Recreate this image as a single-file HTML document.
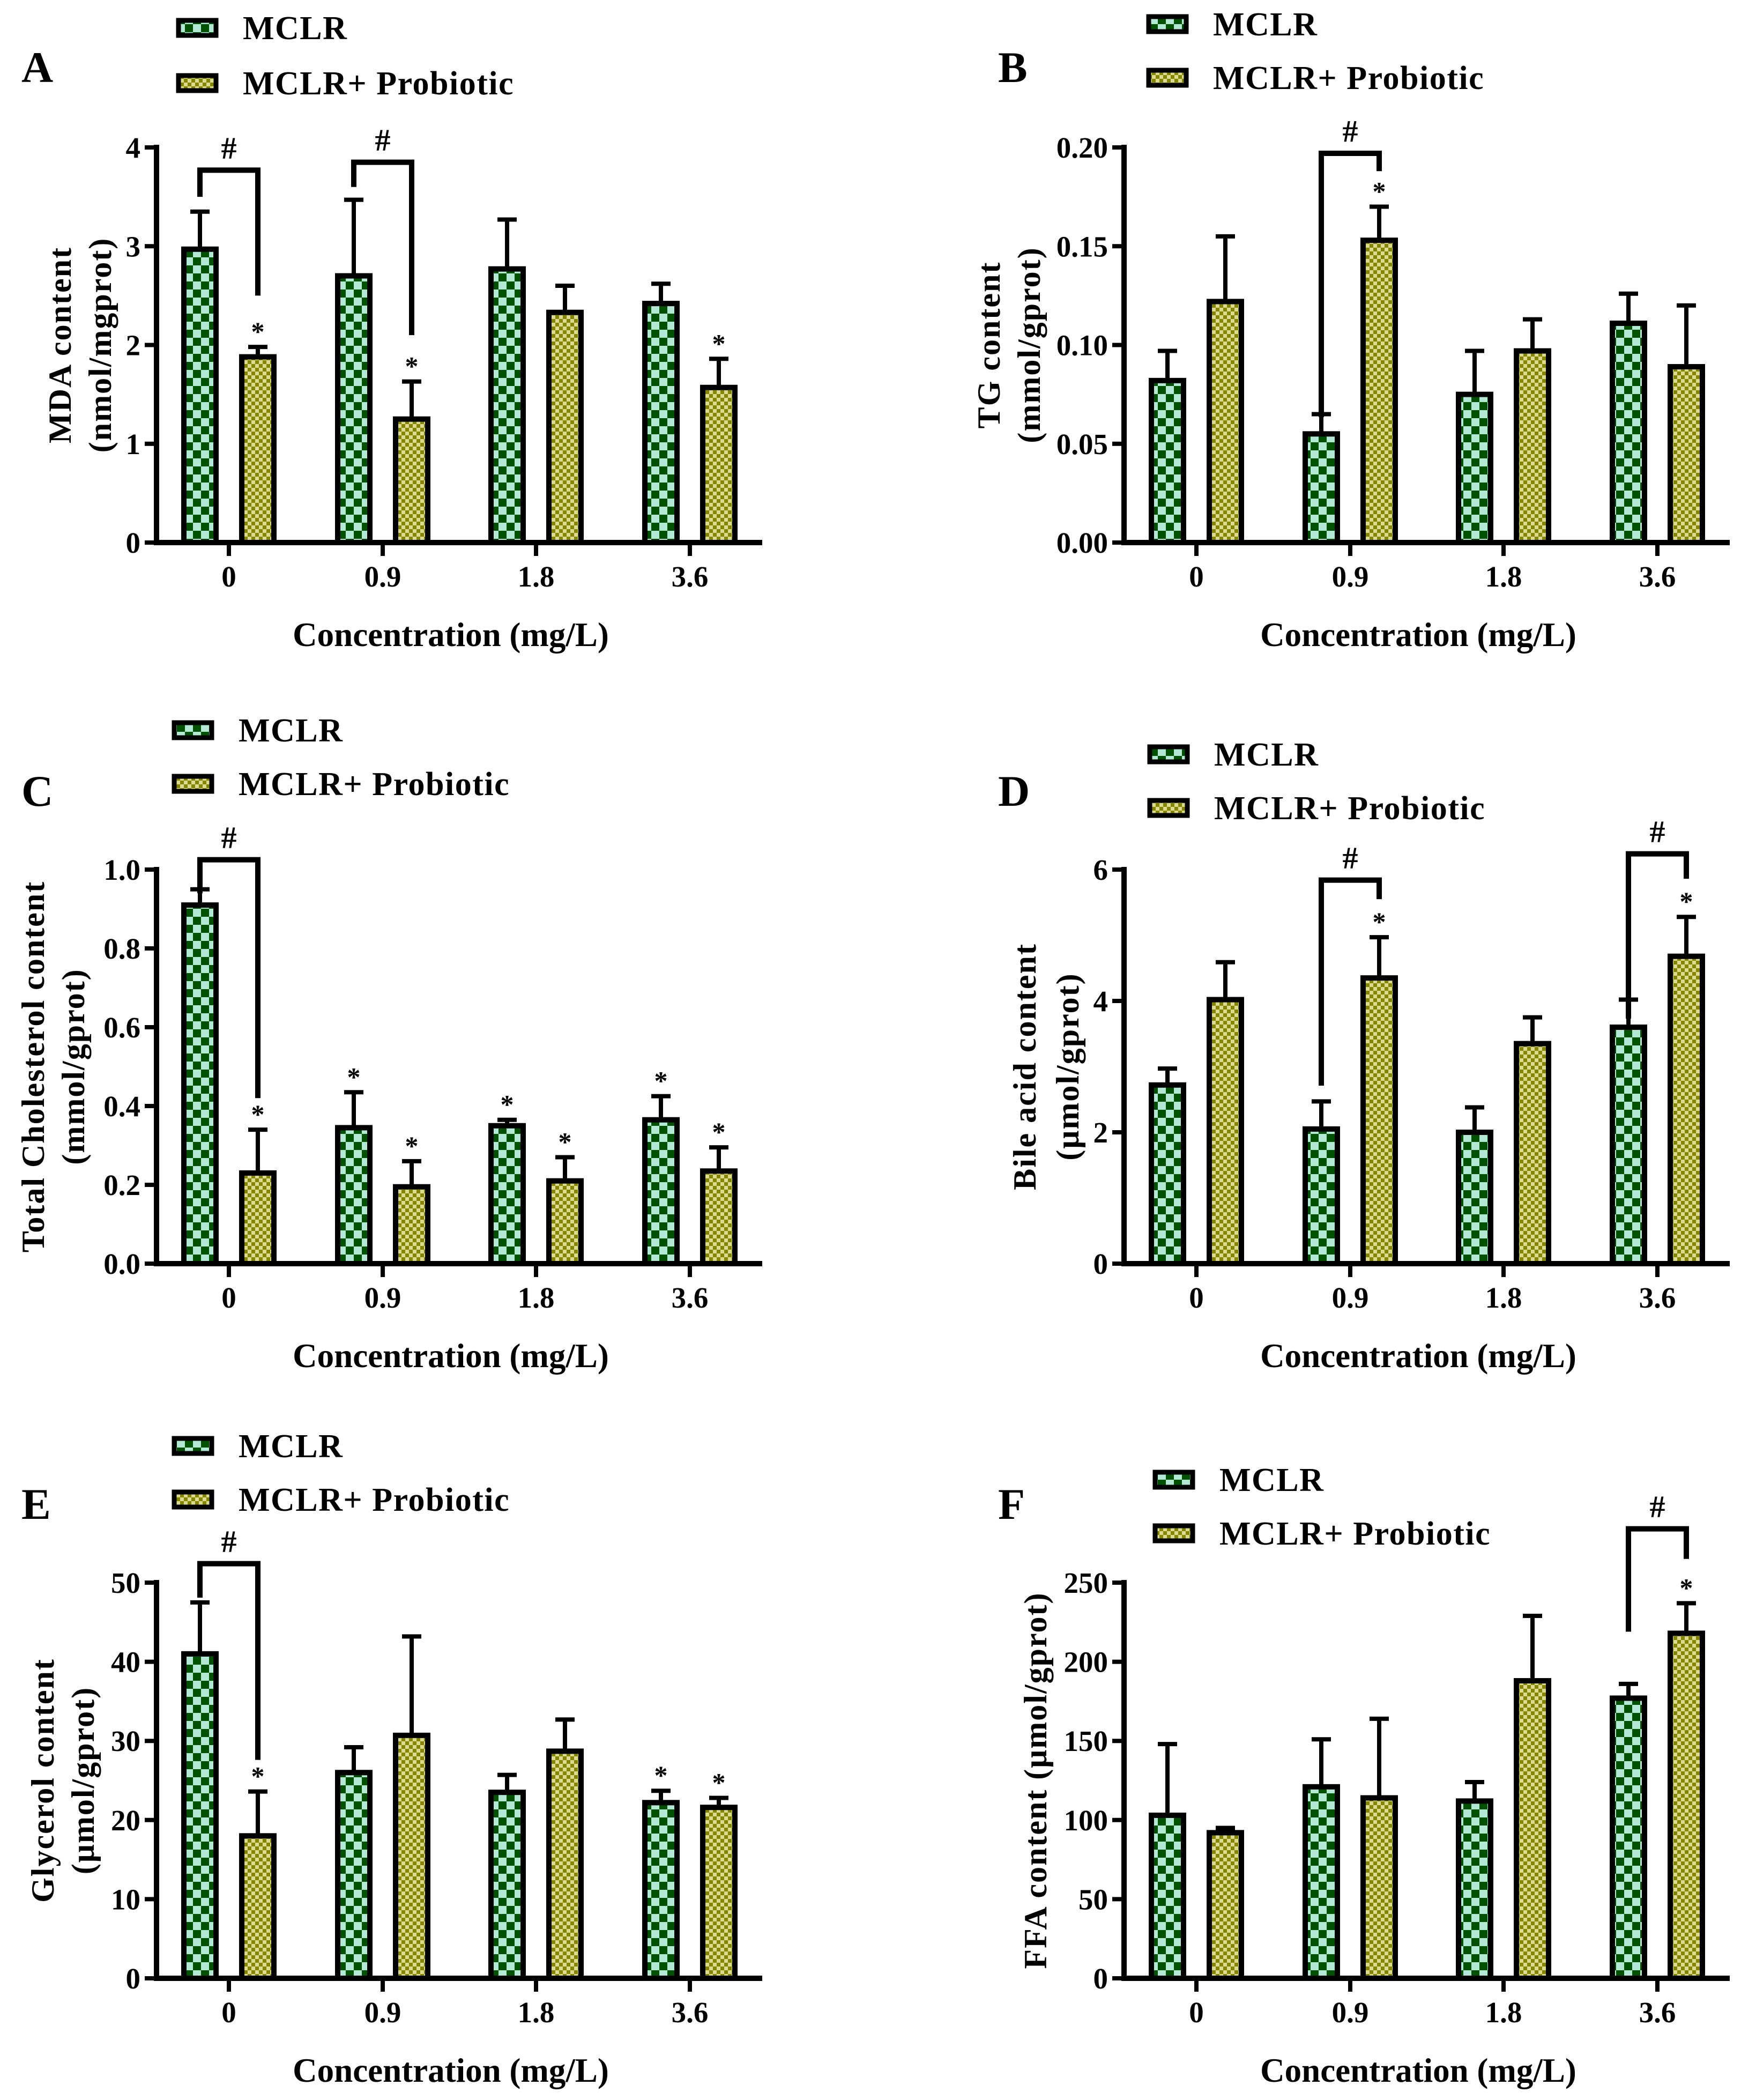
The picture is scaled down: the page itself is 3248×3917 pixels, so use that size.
<!DOCTYPE html>
<html><head><meta charset="utf-8">
<style>
html,body{margin:0;padding:0;background:#fff;}
svg{display:block;}
text{font-family:"Liberation Serif",serif;font-weight:bold;fill:#000;}
</style></head>
<body>
<svg id="s" xmlns="http://www.w3.org/2000/svg" width="3248" height="3917" viewBox="0 0 3248 3917">
<defs>
<pattern id="pg" patternUnits="userSpaceOnUse" width="30" height="30">
<rect width="30" height="30" fill="#b3e8d4"/>
<rect width="15" height="15" fill="#005200"/>
<rect x="15" y="15" width="15" height="15" fill="#005200"/>
</pattern>
<pattern id="py" patternUnits="userSpaceOnUse" width="14" height="14">
<rect width="14" height="14" fill="#dada90"/>
<rect width="7" height="7" fill="#858500"/>
<rect x="7" y="7" width="7" height="7" fill="#858500"/>
</pattern>
</defs>
</svg>
<script>
const S=document.getElementById('s');let h='';
const P=[
{L:'A',ox:292,top:275,bot:1012,max:4,ticks:[0,1,2,3,4],fmt:v=>String(v),yl:['MDA content','(nmol/mgprot)'],ylx:[112,187],
 m:[[2.97,.38],[2.7,.77],[2.77,.5],[2.42,.2]],p:[[1.88,.1],[1.25,.38],[2.33,.27],[1.57,.29]],
 sm:[0,0,0,0],sp:[1,1,0,1],br:[[0,3.5,3.77,2.5],[1,3.6,3.85,2.1]],lg:[333,52,155],lt:[40,125]},
{L:'B',ox:2097,top:275,bot:1012,max:.2,ticks:[0,.05,.1,.15,.2],fmt:v=>v.toFixed(2),yl:['TG content','(mmol/gprot)'],ylx:[1845,1920],
 m:[[.082,.015],[.055,.01],[.075,.022],[.111,.015]],p:[[.122,.033],[.153,.017],[.097,.016],[.089,.031]],
 sm:[0,0,0,0],sp:[0,1,0,0],br:[[1,.0635,.197,.188]],lg:[2143,45,145],lt:[1862,125]},
{L:'C',ox:292,top:1622,bot:2357,max:1,ticks:[0,.2,.4,.6,.8,1],fmt:v=>v.toFixed(1),yl:['Total Cholesterol content','(mmol/gprot)'],ylx:[62,137],
 m:[[.91,.04],[.345,.09],[.35,.015],[.365,.06]],p:[[.23,.11],[.195,.065],[.21,.06],[.235,.06]],
 sm:[0,1,1,1],sp:[1,1,1,1],br:[[0,.94,1.025,.42]],lg:[325,1362,1462],lt:[40,1475]},
{L:'D',ox:2097,top:1622,bot:2357,max:6,ticks:[0,2,4,6],fmt:v=>String(v),yl:['Bile acid content','(\u03bcmol/gprot)'],ylx:[1912,1992],
 m:[[2.72,.25],[2.05,.42],[2.0,.38],[3.6,.42]],p:[[4.02,.57],[4.35,.62],[3.35,.4],[4.68,.6]],
 sm:[0,0,0,0],sp:[0,1,0,1],br:[[1,2.71,5.84,5.55],[3,3.73,6.24,5.86]],lg:[2145,1407,1507],lt:[1862,1475]},
{L:'E',ox:292,top:2952,bot:3690,max:50,ticks:[0,10,20,30,40,50],fmt:v=>String(v),yl:['Glycerol content','(\u03bcmol/gprot)'],ylx:[80,155],
 m:[[41,6.5],[26,3.2],[23.5,2.2],[22.2,1.5]],p:[[18,5.6],[30.7,12.5],[28.7,4],[21.6,1.2]],
 sm:[0,0,0,1],sp:[1,0,0,1],br:[[0,48.1,52.4,27.6]],lg:[325,2697,2797],lt:[40,2805]},
{L:'F',ox:2097,top:2952,bot:3690,max:250,ticks:[0,50,100,150,200,250],fmt:v=>String(v),yl:['FFA content (\u03bcmol/gprot)'],ylx:[1932],
 m:[[103,45],[121,30],[112,12],[177,9]],p:[[92,3],[114,50],[188,41],[218,19]],
 sm:[0,0,0,0],sp:[0,0,0,1],br:[[3,219,284,265]],lg:[2155,2760,2860],lt:[1862,2805]}
];
for(const c of P){
 const Y=v=>c.bot-(v/c.max)*(c.bot-c.top);
 const cx=[135,422,708,995].map(d=>c.ox+d);
 function bar(x,v,e,fill,star){
  const w=60,yt=Y(v),ye=Y(v+e);
  h+=`<line x1="${x}" y1="${ye}" x2="${x}" y2="${yt}" stroke="#000" stroke-width="8"/>`;
  h+=`<line x1="${x-18}" y1="${ye}" x2="${x+18}" y2="${ye}" stroke="#000" stroke-width="8"/>`;
  h+=`<rect x="${x-w/2}" y="${yt}" width="${w}" height="${c.bot-yt}" fill="url(#${fill})" stroke="#000" stroke-width="10"/>`;
  if(star) h+=`<text x="${x}" y="${ye-12}" font-size="50" text-anchor="middle">*</text>`;
 }
 for(let i=0;i<4;i++){bar(cx[i]-54,c.m[i][0],c.m[i][1],'pg',c.sm[i]);bar(cx[i]+54,c.p[i][0],c.p[i][1],'py',c.sp[i]);}
 h+=`<line x1="${c.ox}" y1="${c.top-5}" x2="${c.ox}" y2="${c.bot+5}" stroke="#000" stroke-width="10"/>`;
 h+=`<line x1="${c.ox-5}" y1="${c.bot}" x2="${c.ox+1130}" y2="${c.bot}" stroke="#000" stroke-width="10"/>`;
 for(const t of c.ticks){const y=Y(t);
  h+=`<line x1="${c.ox-22}" y1="${y}" x2="${c.ox}" y2="${y}" stroke="#000" stroke-width="8"/>`;
  h+=`<text x="${c.ox-30}" y="${y+19}" font-size="55" text-anchor="end">${c.fmt(t)}</text>`;}
 const xl=['0','0.9','1.8','3.6'];
 for(let i=0;i<4;i++){h+=`<line x1="${cx[i]}" y1="${c.bot}" x2="${cx[i]}" y2="${c.bot+25}" stroke="#000" stroke-width="8"/>`;
  h+=`<text x="${cx[i]}" y="${c.bot+82}" font-size="55" text-anchor="middle">${xl[i]}</text>`;}
 h+=`<text x="${c.ox+549}" y="${c.bot+193}" font-size="63" text-anchor="middle">Concentration (mg/L)</text>`;
 const my=(c.top+c.bot)/2;
 c.yl.forEach((s,k)=>{const x=c.ylx[k]+20;h+=`<text transform="translate(${x},${my}) rotate(-90)" font-size="60" text-anchor="middle" letter-spacing="2">${s}</text>`;});
 for(const b of c.br){const xl2=cx[b[0]]-54,xr=cx[b[0]]+54,yt=Y(b[2]);
  h+=`<polyline points="${xl2},${Y(b[1])} ${xl2},${yt} ${xr},${yt} ${xr},${Y(b[3])}" fill="none" stroke="#000" stroke-width="10"/>`;
  h+=`<text x="${cx[b[0]]}" y="${yt-22}" font-size="58" text-anchor="middle" font-weight="normal">#</text>`;}
 const [lx,l1,l2]=c.lg;
 h+=`<rect x="${lx}" y="${l1-14}" width="70" height="28" fill="url(#pg)" stroke="#000" stroke-width="9"/>`;
 h+=`<rect x="${lx}" y="${l2-14}" width="70" height="28" fill="url(#py)" stroke="#000" stroke-width="9"/>`;
 h+=`<text x="${lx+120}" y="${l1+21}" font-size="62" letter-spacing="1.5">MCLR</text>`;
 h+=`<text x="${lx+120}" y="${l2+21}" font-size="62" letter-spacing="1.5">MCLR+ Probiotic</text>`;
 h+=`<text x="${c.lt[0]}" y="${c.lt[1]+28}" font-size="82">${c.L}</text>`;
}
S.insertAdjacentHTML('beforeend',h);
</script>
</body></html>
